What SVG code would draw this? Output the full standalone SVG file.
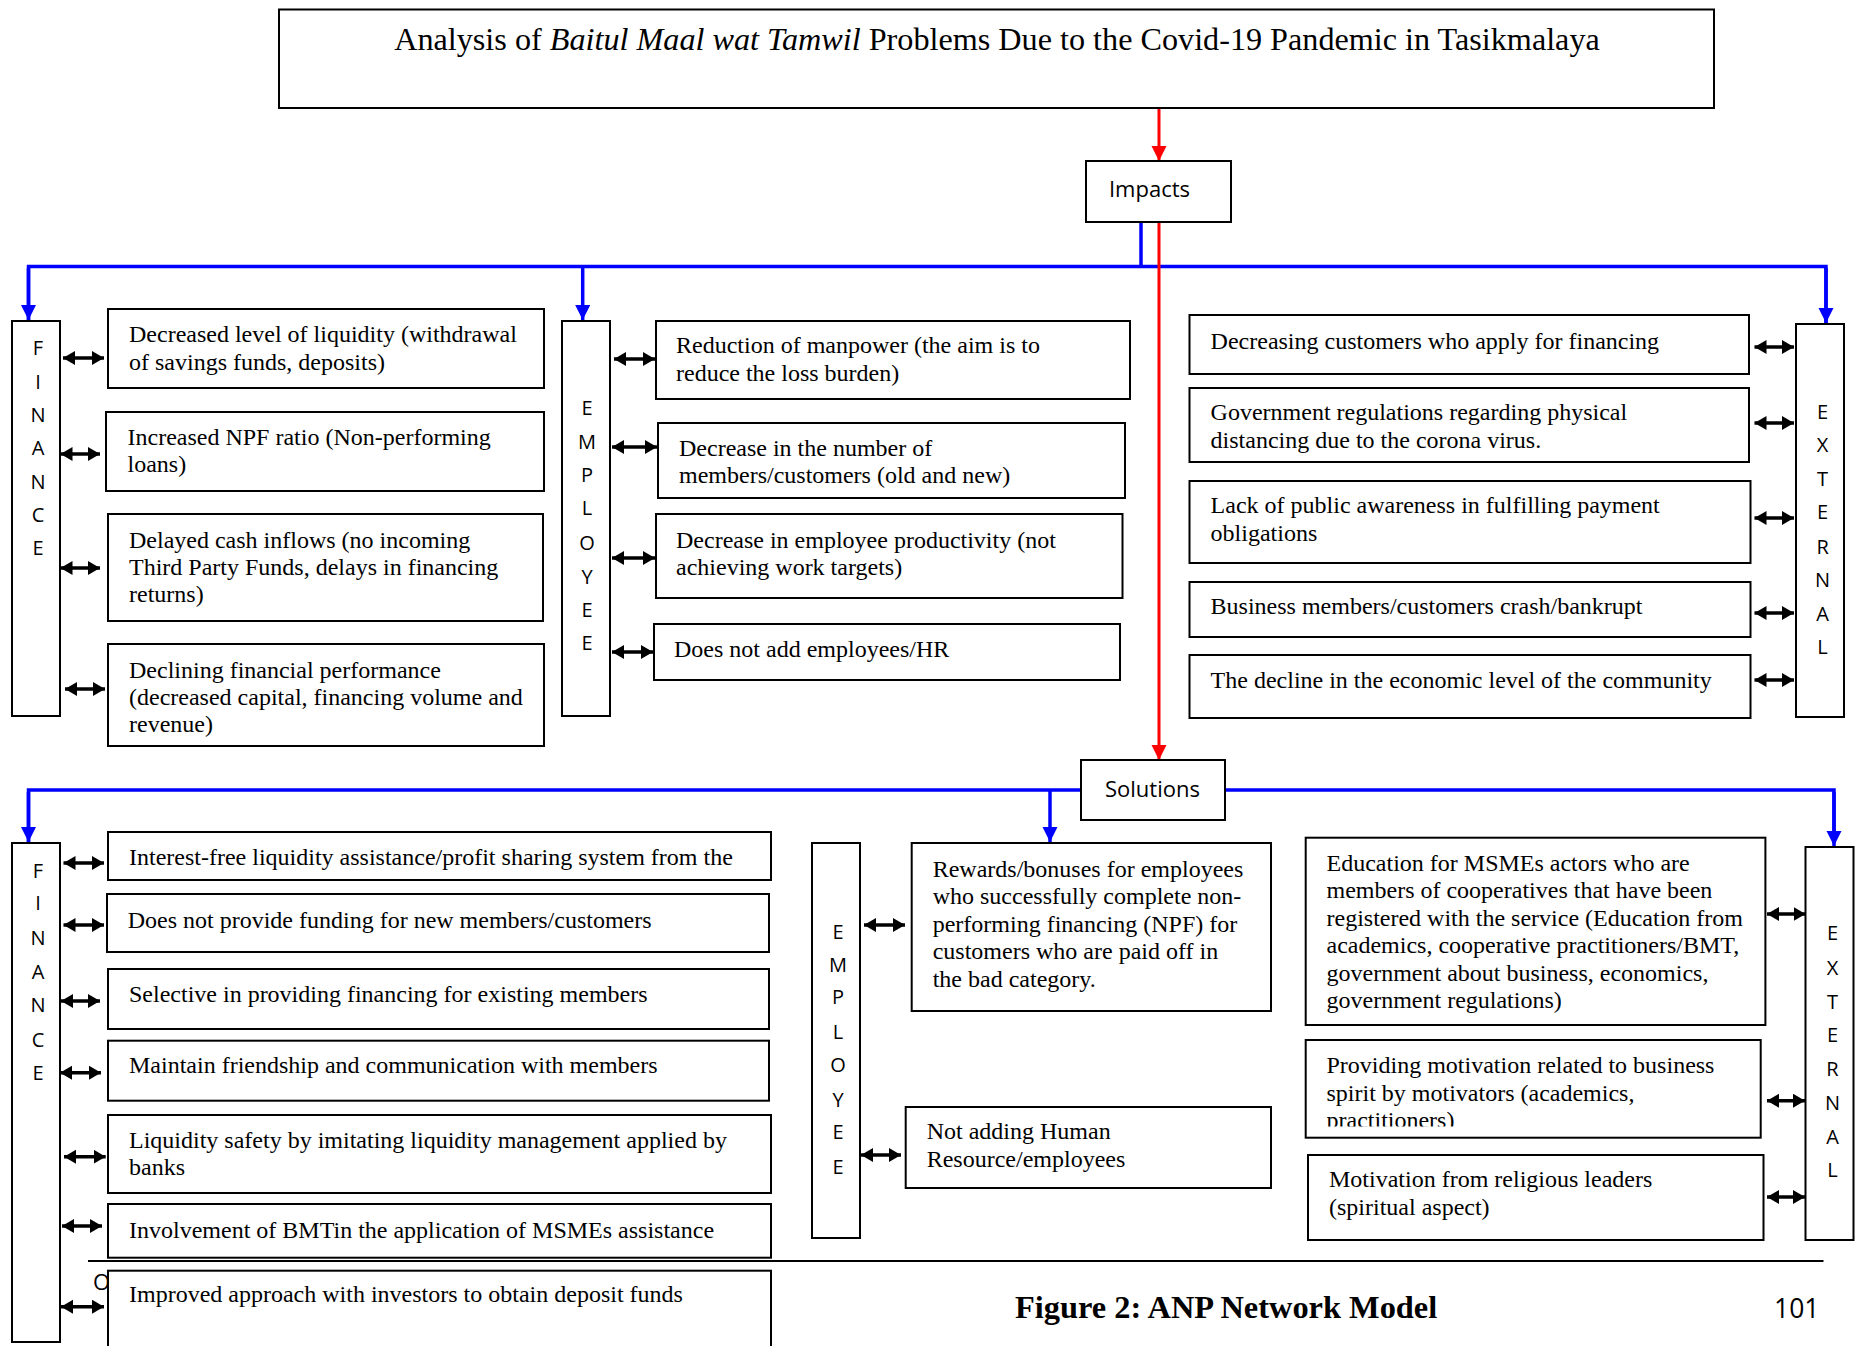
<svg xmlns="http://www.w3.org/2000/svg" width="1862" height="1346" viewBox="0 0 1862 1346">
<style>
.box{fill:#fff;stroke:#000;stroke-width:2}
.t{font-family:"Liberation Serif","Times New Roman",serif;font-size:24px;fill:#000}
.h{font-family:"Open Sans","Noto Sans",sans-serif;font-size:22px;fill:#000;text-anchor:middle}
.v{font-family:"Open Sans","Noto Sans",sans-serif;font-size:20px;fill:#000;text-anchor:middle}
.blue{stroke:#0000ff;stroke-width:3.5;fill:none}
.bluea{stroke:#0000ff;stroke-width:3.5;fill:none;marker-end:url(#ab)}
.reda{stroke:#ff0000;stroke-width:3;fill:none;marker-end:url(#ar)}
.dbl{stroke:#000;stroke-width:3.5;fill:none;marker-start:url(#dh);marker-end:url(#dh)}
</style>
<defs>
<marker id="ab" markerUnits="userSpaceOnUse" markerWidth="16" markerHeight="16" refX="15" refY="7.5" orient="auto"><path d="M0,0 L15,7.5 L0,15 z" fill="#0000ff"/></marker>
<marker id="ar" markerUnits="userSpaceOnUse" markerWidth="16" markerHeight="16" refX="15" refY="7.5" orient="auto"><path d="M0,0 L15,7.5 L0,15 z" fill="#ff0000"/></marker>
<marker id="dh" markerUnits="userSpaceOnUse" markerWidth="14" markerHeight="15" refX="12" refY="7" orient="auto-start-reverse"><path d="M0,0 L12,7 L0,14 z" fill="#000"/></marker>
<clipPath id="clipSX2"><rect x="1300" y="1040" width="470" height="86.5"/></clipPath>
</defs>
<rect width="1862" height="1346" fill="#fff"/>

<g id="connectors">
<line class="reda" x1="1159" y1="108" x2="1159" y2="161"/>
<line class="blue" x1="1141" y1="222" x2="1141" y2="266.5"/>
<polyline class="blue" points="28.5,320 28.5,266.5 1826,266.5 1826,323"/>
<line class="bluea" x1="28.5" y1="268" x2="28.5" y2="320"/>
<line class="bluea" x1="582.7" y1="266.5" x2="582.7" y2="320"/>
<line class="bluea" x1="1826" y1="268" x2="1826" y2="323"/>
<line class="reda" x1="1159" y1="222" x2="1159" y2="760"/>
<polyline class="blue" points="28.5,842 28.5,790 1834,790 1834,842"/>
<line class="bluea" x1="28.5" y1="792" x2="28.5" y2="842"/>
<line class="bluea" x1="1050" y1="790" x2="1050" y2="842"/>
<line class="bluea" x1="1834" y1="792" x2="1834" y2="846"/>
<line class="dbl" x1="63" y1="358" x2="104" y2="358"/>
<line class="dbl" x1="60.5" y1="454" x2="100" y2="454"/>
<line class="dbl" x1="60.5" y1="568" x2="100" y2="568"/>
<line class="dbl" x1="65" y1="689" x2="105" y2="689"/>
<line class="dbl" x1="614" y1="359" x2="655" y2="359"/>
<line class="dbl" x1="612" y1="447" x2="657" y2="447"/>
<line class="dbl" x1="612" y1="558" x2="655" y2="558"/>
<line class="dbl" x1="612" y1="652" x2="653" y2="652"/>
<line class="dbl" x1="1754.5" y1="347" x2="1794" y2="347"/>
<line class="dbl" x1="1754.5" y1="423" x2="1794" y2="423"/>
<line class="dbl" x1="1754.5" y1="518" x2="1794" y2="518"/>
<line class="dbl" x1="1754.5" y1="613" x2="1794" y2="613"/>
<line class="dbl" x1="1754.5" y1="680" x2="1794" y2="680"/>
<line class="dbl" x1="63.5" y1="863" x2="104" y2="863"/>
<line class="dbl" x1="63.5" y1="925" x2="104" y2="925"/>
<line class="dbl" x1="61" y1="1001" x2="100" y2="1001"/>
<line class="dbl" x1="60" y1="1072.7" x2="101" y2="1072.7"/>
<line class="dbl" x1="64" y1="1156.7" x2="105.7" y2="1156.7"/>
<line class="dbl" x1="62" y1="1226" x2="102" y2="1226"/>
<line class="dbl" x1="61" y1="1306.7" x2="104" y2="1306.7"/>
<line class="dbl" x1="864" y1="925" x2="905" y2="925"/>
<line class="dbl" x1="861" y1="1155" x2="901" y2="1155"/>
<line class="dbl" x1="1767" y1="914" x2="1805.5" y2="914"/>
<line class="dbl" x1="1767" y1="1100.7" x2="1805" y2="1100.7"/>
<line class="dbl" x1="1767" y1="1197" x2="1805" y2="1197"/>
</g>

<g id="title">
<rect class="box" x="279" y="9.5" width="1435" height="98.5"/>
<text class="t" x="997" y="50" text-anchor="middle" style="font-size:32.2px">Analysis of <tspan font-style="italic">Baitul Maal wat Tamwil</tspan> Problems Due to the Covid-19 Pandemic in Tasikmalaya</text>
</g>

<g id="impacts">
<rect class="box" x="1086" y="161" width="145" height="61"/>
<text class="h" x="1149.5" y="197">Impacts</text>
</g>

<g id="solutions">
<rect class="box" x="1081" y="760" width="144" height="60"/>
<text class="h" x="1152.5" y="797">Solutions</text>
</g>

<g id="impact-finance">
<rect class="box" x="12" y="321" width="48" height="395"/>
<text class="v" x="38" y="355">F</text><text class="v" x="38" y="389">I</text><text class="v" x="38" y="422">N</text><text class="v" x="38" y="455">A</text><text class="v" x="38" y="489">N</text><text class="v" x="38" y="522">C</text><text class="v" x="38" y="555">E</text>
</g>
<g id="impact-finance-1">
<rect class="box" x="108" y="309" width="436" height="79"/>
<text class="t" x="129" y="342">Decreased level of liquidity (withdrawal</text>
<text class="t" x="129" y="370">of savings funds, deposits)</text>
</g>
<g id="impact-finance-2">
<rect class="box" x="106" y="412" width="438" height="79"/>
<text class="t" x="127.5" y="445">Increased NPF ratio (Non-performing</text>
<text class="t" x="127.5" y="472">loans)</text>
</g>
<g id="impact-finance-3">
<rect class="box" x="108" y="514" width="435" height="107"/>
<text class="t" x="129" y="548">Delayed cash inflows (no incoming</text>
<text class="t" x="129" y="575">Third Party Funds, delays in financing</text>
<text class="t" x="129" y="602">returns)</text>
</g>
<g id="impact-finance-4">
<rect class="box" x="108" y="644" width="436" height="102"/>
<text class="t" x="129" y="678">Declining financial performance</text>
<text class="t" x="129" y="705">(decreased capital, financing volume and</text>
<text class="t" x="129" y="732">revenue)</text>
</g>

<g id="impact-employee">
<rect class="box" x="562" y="321" width="48" height="395"/>
<text class="v" x="587" y="415">E</text><text class="v" x="587" y="449">M</text><text class="v" x="587" y="482">P</text><text class="v" x="587" y="515">L</text><text class="v" x="587" y="550">O</text><text class="v" x="587" y="584">Y</text><text class="v" x="587" y="617">E</text><text class="v" x="587" y="650">E</text>
</g>
<g id="impact-employee-1">
<rect class="box" x="656" y="321" width="474" height="78"/>
<text class="t" x="676" y="353">Reduction of manpower (the aim is to</text>
<text class="t" x="676" y="381">reduce the loss burden)</text>
</g>
<g id="impact-employee-2">
<rect class="box" x="658" y="423" width="467" height="75"/>
<text class="t" x="679" y="456">Decrease in the number of</text>
<text class="t" x="679" y="483">members/customers (old and new)</text>
</g>
<g id="impact-employee-3">
<rect class="box" x="656" y="514" width="466.5" height="84"/>
<text class="t" x="676" y="548">Decrease in employee productivity (not</text>
<text class="t" x="676" y="575">achieving work targets)</text>
</g>
<g id="impact-employee-4">
<rect class="box" x="654" y="624" width="466" height="56"/>
<text class="t" x="674" y="657">Does not add employees/HR</text>
</g>

<g id="impact-external">
<rect class="box" x="1796" y="324" width="48" height="393"/>
<text class="v" x="1822.6" y="419">E</text><text class="v" x="1822.6" y="452">X</text><text class="v" x="1822.6" y="486">T</text><text class="v" x="1822.6" y="519">E</text><text class="v" x="1822.6" y="554">R</text><text class="v" x="1822.6" y="587">N</text><text class="v" x="1822.6" y="621">A</text><text class="v" x="1822.6" y="654">L</text>
</g>
<g id="impact-external-1">
<rect class="box" x="1189.5" y="315" width="559.5" height="59"/>
<text class="t" x="1210.6" y="349">Decreasing customers who apply for financing</text>
</g>
<g id="impact-external-2">
<rect class="box" x="1189.5" y="388" width="559.5" height="74"/>
<text class="t" x="1210.6" y="420">Government regulations regarding physical</text>
<text class="t" x="1210.6" y="448">distancing due to the corona virus.</text>
</g>
<g id="impact-external-3">
<rect class="box" x="1189.5" y="481" width="561" height="82"/>
<text class="t" x="1210.6" y="513">Lack of public awareness in fulfilling payment</text>
<text class="t" x="1210.6" y="541">obligations</text>
</g>
<g id="impact-external-4">
<rect class="box" x="1189.5" y="582" width="561" height="55"/>
<text class="t" x="1210.6" y="614">Business members/customers crash/bankrupt</text>
</g>
<g id="impact-external-5">
<rect class="box" x="1189.5" y="655" width="561" height="63"/>
<text class="t" x="1210.6" y="688">The decline in the economic level of the community</text>
</g>

<g id="solution-finance">
<rect class="box" x="12" y="843" width="48" height="499"/>
<text class="v" x="38" y="878">F</text><text class="v" x="38" y="910">I</text><text class="v" x="38" y="945">N</text><text class="v" x="38" y="979">A</text><text class="v" x="38" y="1012">N</text><text class="v" x="38" y="1047">C</text><text class="v" x="38" y="1080">E</text>
</g>
<g id="solution-finance-1">
<rect class="box" x="108" y="832" width="663" height="48"/>
<text class="t" x="129" y="865">Interest-free liquidity assistance/profit sharing system from the</text>
</g>
<g id="solution-finance-2">
<rect class="box" x="107" y="894" width="662" height="58"/>
<text class="t" x="127.7" y="928">Does not provide funding for new members/customers</text>
</g>
<g id="solution-finance-3">
<rect class="box" x="108" y="969" width="661" height="60"/>
<text class="t" x="129" y="1002">Selective in providing financing for existing members</text>
</g>
<g id="solution-finance-4">
<rect class="box" x="108" y="1040.7" width="661" height="60"/>
<text class="t" x="129" y="1073">Maintain friendship and communication with members</text>
</g>
<g id="solution-finance-5">
<rect class="box" x="108" y="1115" width="663" height="78"/>
<text class="t" x="129" y="1148">Liquidity safety by imitating liquidity management applied by</text>
<text class="t" x="129" y="1175">banks</text>
</g>
<g id="solution-finance-6">
<rect class="box" x="108" y="1204" width="663" height="53.7"/>
<text class="t" x="129" y="1238">Involvement of BMTin the application of MSMEs assistance</text>
</g>
<text class="v" x="93" y="1290" style="text-anchor:start;font-size:22px">O</text>
<g id="solution-finance-7">
<rect class="box" x="108" y="1270.7" width="663" height="100"/>
<text class="t" x="129" y="1301.7">Improved approach with investors to obtain deposit funds</text>
</g>

<g id="solution-employee">
<rect class="box" x="812" y="843" width="48" height="395"/>
<text class="v" x="838" y="939">E</text><text class="v" x="838" y="972">M</text><text class="v" x="838" y="1004">P</text><text class="v" x="838" y="1039">L</text><text class="v" x="838" y="1072">O</text><text class="v" x="838" y="1107">Y</text><text class="v" x="838" y="1139">E</text><text class="v" x="838" y="1174">E</text>
</g>
<g id="solution-employee-1">
<rect class="box" x="911.7" y="843" width="359.3" height="168"/>
<text class="t" x="932.7" y="877">Rewards/bonuses for employees</text>
<text class="t" x="932.7" y="904">who successfully complete non-</text>
<text class="t" x="932.7" y="932">performing financing (NPF) for</text>
<text class="t" x="932.7" y="959">customers who are paid off in</text>
<text class="t" x="932.7" y="987">the bad category.</text>
</g>
<g id="solution-employee-2">
<rect class="box" x="905.7" y="1107" width="365.3" height="81"/>
<text class="t" x="926.7" y="1139">Not adding Human</text>
<text class="t" x="926.7" y="1167">Resource/employees</text>
</g>

<g id="solution-external">
<rect class="box" x="1805.5" y="847" width="48" height="393"/>
<text class="v" x="1832.5" y="940">E</text><text class="v" x="1832.5" y="975">X</text><text class="v" x="1832.5" y="1009">T</text><text class="v" x="1832.5" y="1042">E</text><text class="v" x="1832.5" y="1076">R</text><text class="v" x="1832.5" y="1110">N</text><text class="v" x="1832.5" y="1144">A</text><text class="v" x="1832.5" y="1177">L</text>
</g>
<g id="solution-external-1">
<rect class="box" x="1305.7" y="837.7" width="459.7" height="187.3"/>
<text class="t" x="1326.5" y="870.7">Education for MSMEs actors who are</text>
<text class="t" x="1326.5" y="898">members of cooperatives that have been</text>
<text class="t" x="1326.5" y="925.7">registered with the service (Education from</text>
<text class="t" x="1326.5" y="953">academics, cooperative practitioners/BMT,</text>
<text class="t" x="1326.5" y="980.7">government about business, economics,</text>
<text class="t" x="1326.5" y="1008">government regulations)</text>
</g>
<g id="solution-external-2">
<rect class="box" x="1305.7" y="1040" width="455" height="97.7"/>
<g clip-path="url(#clipSX2)">
<text class="t" x="1326.5" y="1073">Providing motivation related to business</text>
<text class="t" x="1326.5" y="1100.7">spirit by motivators (academics,</text>
<text class="t" x="1326.5" y="1128">practitioners)</text>
</g>
</g>
<g id="solution-external-3">
<rect class="box" x="1308" y="1155" width="455.5" height="85"/>
<text class="t" x="1329" y="1187">Motivation from religious leaders</text>
<text class="t" x="1329" y="1215">(spiritual aspect)</text>
</g>

<g id="footer">
<line x1="88" y1="1261" x2="1823.5" y2="1261" stroke="#000" stroke-width="2"/>
<text class="t" x="1015" y="1318" style="font-size:32.4px;font-weight:bold">Figure 2: ANP Network Model</text>
<text x="1774" y="1318" style="font-family:'Open Sans','Noto Sans',sans-serif;font-size:26.5px;fill:#000">101</text>
</g>
</svg>
